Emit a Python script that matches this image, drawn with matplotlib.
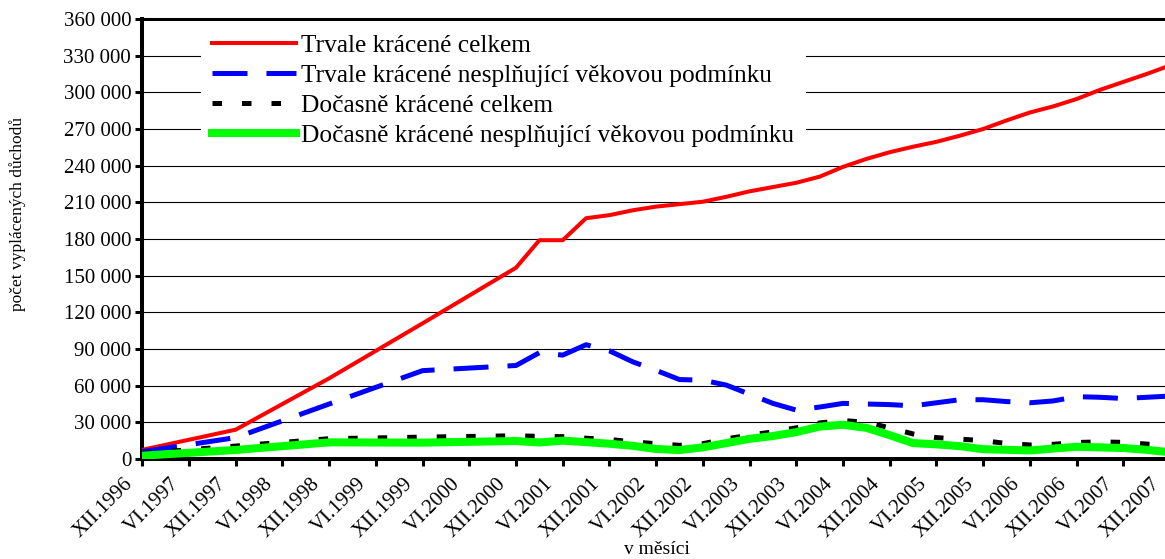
import numpy as np
import matplotlib
matplotlib.use('Agg')
import matplotlib.pyplot as plt
from matplotlib.ticker import FuncFormatter, MultipleLocator
import matplotlib.transforms as mtransforms

plt.rcParams['font.family'] = ['Liberation Serif', 'DejaVu Serif']

# ---- data (quarterly categories XII.1996 ... XII.2007; None = no data point) ----
tick_labels = ['XII.1996', 'VI.1997', 'XII.1997', 'VI.1998', 'XII.1998', 'VI.1999',
               'XII.1999', 'VI.2000', 'XII.2000', 'VI.2001', 'XII.2001', 'VI.2002',
               'XII.2002', 'VI.2003', 'XII.2003', 'VI.2004', 'XII.2004', 'VI.2005',
               'XII.2005', 'VI.2006', 'XII.2006', 'VI.2007', 'XII.2007']

series_names = ['Trvale krácené celkem',
                'Trvale krácené nesplňující věkovou podmínku',
                'Dočasně krácené celkem',
                'Dočasně krácené nesplňující věkovou podmínku']

trvale_celkem = [7500, None, None, None, 24000, None, None, None, 66000, None, None, None,
                 111000, None, None, None, 156500,
                 179000, 179000, 197000, 199500, 203500, 206500, 208500, 210500,
                 214500, 219000, 222500, 226000, 231000, 239000, 245500, 251000,
                 255500, 259500, 264500, 270000, 277000, 283500, 288500, 294500,
                 302000, 308500, 315000, 322000]

trvale_nespl = [6000, None, None, None, 17500, None, None, None, 45000, None, None, None,
                72300, None, None, None, 76500,
                87000, 85000, 93500, 88500, 79500, 72500, 65000, 64500,
                60500, 53000, 45500, 40000, 42500, 45500, 45000, 44500,
                43500, 46000, 48500, 48500, 47000, 46000, 47500, 51000,
                50500, 49500, 50500, 51500]

docasne_celkem = [4500, None, None, None, 10600, None, None, None, 16600, None, None, None,
                  17900, None, None, None, 19000,
                  18500, 18300, 17000, 16000, 14000, 12500, 11200, 12500,
                  16500, 19500, 22200, 25500, 29500, 31500, 30000, 25500,
                  20500, 17500, 16300, 15000, 12700, 11500, 12000, 13500,
                  14000, 13600, 12200, 11000]

docasne_nespl = [2700, None, None, None, 7400, None, None, None, 13600, None, None, None,
                 13400, None, None, None, 14700,
                 13500, 15000, 13800, 12500, 10800, 8200, 7300, 9500,
                 13000, 16500, 18800, 22000, 26500, 28000, 25500, 19500,
                 13000, 12000, 10500, 8000, 7500, 7000, 8500, 10000,
                 9500, 9000, 7500, 5500]

# ---- figure ----
W, H = 1165, 559
fig = plt.figure(figsize=(W / 100, H / 100), dpi=100)
ax = fig.add_axes([142.3 / W, 100 / H, (1170 - 142.3) / W, 440 / H])

n = len(trvale_celkem)
x = np.arange(n)


def draw(vals, **kw):
    v = np.array([np.nan if a is None else a for a in vals], dtype=float)
    m = ~np.isnan(v)
    return ax.plot(x[m], v[m], **kw)[0]


h1 = draw(trvale_celkem, color='#FF0000', lw=2.9, solid_joinstyle='round', zorder=3)
h2 = draw(trvale_nespl, color='#0000FF', lw=3.6, dashes=(7, 3.8), dash_capstyle='butt',
          zorder=3)
h3 = draw(docasne_celkem, color='black', lw=3.6, dashes=(1.9, 4.0), dash_capstyle='butt',
          zorder=3)
h4 = draw(docasne_nespl, color='#00FF00', lw=5.8, solid_joinstyle='round', zorder=4)

ax.set_xlim(0, n - 1)
ax.set_ylim(0, 360000)
ax.yaxis.set_major_locator(MultipleLocator(30000))
ax.yaxis.set_major_formatter(FuncFormatter(lambda v, p: f"{int(v):,}".replace(',', ' ')))
ax.set_xticks(x[::2])
ax.set_xticklabels(tick_labels, rotation=45, ha='right', va='center',
                   rotation_mode='anchor')

ax.yaxis.grid(True, color='black', lw=0.8)
ax.set_axisbelow(True)

for s in ('left', 'bottom'):
    ax.spines[s].set_linewidth(2.9)
ax.spines['top'].set_linewidth(2.2)
ax.spines['right'].set_visible(False)

ax.tick_params(axis='both', direction='out', length=5, width=2.2, color='black',
               labelsize=15, labelcolor='black')
ax.tick_params(axis='y', pad=3)
ax.tick_params(axis='x', pad=4)

off = mtransforms.ScaledTranslation(-9 / 72, -7 / 72, fig.dpi_scale_trans)
for lbl in ax.get_xticklabels():
    lbl.set_transform(lbl.get_transform() + off)

leg = ax.legend([h1, h2, h3, h4], series_names, loc='upper left',
                bbox_to_anchor=(201 / W, 1 - 23 / H), bbox_transform=fig.transFigure,
                frameon=True, fancybox=False, edgecolor='none', facecolor='white',
                framealpha=1, fontsize=18.3, handlelength=3.3, handletextpad=0.2,
                labelspacing=0.28, borderpad=0.45, borderaxespad=0)
leg.set_zorder(2.4)

fig.text(18 / W, 1 - 214 / H, 'počet vyplácených důchodů', rotation=90,
         ha='center', va='center', fontsize=12.5)
fig.text(657 / W, 1 - 550 / H, 'v měsíci', ha='center', va='center', fontsize=14)

fig.savefig('out.png', dpi=100)
